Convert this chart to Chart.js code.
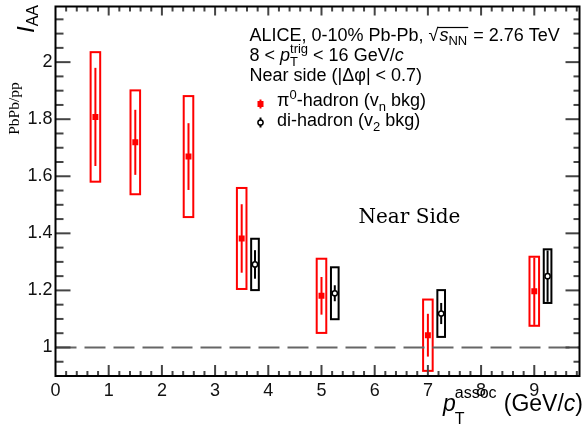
<!DOCTYPE html>
<html>
<head>
<meta charset="utf-8">
<script src="https://cdn.jsdelivr.net/npm/chart.js@4.4.0/dist/chart.umd.min.js"></script>
<style>
  body { margin: 0; background: #fff; }
  #wrap { width: 585px; height: 425px; }
</style>
</head>
<body>
<div id="wrap"><canvas id="iaa-chart"></canvas></div>
<script>
// pi0-hadron (v_n bkg), red
const ptPi0 = [0.75, 1.5, 2.5, 3.5, 5, 7, 9];
const iaaPi0 = [1.808, 1.719, 1.669, 1.382, 1.181, 1.043, 1.197];
const statPi0 = [0.172, 0.114, 0.117, 0.12, 0.066, 0.075, 0.118];
const sysPi0 = [0.227, 0.182, 0.212, 0.177, 0.13, 0.125, 0.121];
// di-hadron (v_2 bkg), black
const ptDi = [3.75, 5.25, 7.25, 9.25];
const iaaDi = [1.291, 1.19, 1.119, 1.25];
const statDi = [0.05, 0.028, 0.037, 0.09];
const sysDi = [0.09, 0.091, 0.082, 0.094];
// axes
const xTickVals = [0, 1, 2, 3, 4, 5, 6, 7, 8, 9];
const yTickVals = [1, 1.2, 1.4, 1.6, 1.8, 2];
const xMin = 0, xMax = 9.85, yMin = 0.9, yMax = 2.195;

const SANS = '"Liberation Sans", Arial, sans-serif';
const SERIF = '"Liberation Serif", "Times New Roman", serif';
const RED = '#ff0000';

function line(ctx, x1, y1, x2, y2) {
    ctx.beginPath();
    ctx.moveTo(x1, y1);
    ctx.lineTo(x2, y2);
    ctx.stroke();
}

// draws pieces of text one after another: [text, font, dy, noAdvance]
function rich(ctx, x, y, parts) {
    for (const [t, f, dy, stay] of parts) {
        ctx.font = f;
        ctx.fillText(t, x, y + (dy || 0));
        if (!stay) x += ctx.measureText(t).width;
    }
    return x;
}

function drawErrors(ctx, sx, sy, xs, ys, stat, sys, halfW, color) {
    ctx.save();
    ctx.strokeStyle = color;
    ctx.lineWidth = 2;
    xs.forEach((x, i) => {
        const cx = sx.getPixelForValue(x);
        const l = sx.getPixelForValue(x - halfW);
        const r = sx.getPixelForValue(x + halfW);
        const top = sy.getPixelForValue(ys[i] + sys[i]);
        const bot = sy.getPixelForValue(ys[i] - sys[i]);
        ctx.strokeRect(l, top, r - l, bot - top);
        line(ctx, cx, sy.getPixelForValue(ys[i] + stat[i]), cx, sy.getPixelForValue(ys[i] - stat[i]));
    });
    ctx.restore();
}

function noPad(s) {
    s.paddingTop = 0;
    s.paddingBottom = 0;
    s.paddingLeft = 0;
    s.paddingRight = 0;
}

const rootStyle = {
    id: 'rootStyle',
    beforeDatasetsDraw(chart) {
        const {ctx, scales: {x, y}} = chart;
        drawErrors(ctx, x, y, ptPi0, iaaPi0, statPi0, sysPi0, 0.09, RED);
        drawErrors(ctx, x, y, ptDi, iaaDi, statDi, sysDi, 0.072, '#000');
    },
    afterDraw(chart) {
        const {ctx, chartArea: a, scales: {x, y}} = chart;
        ctx.save();
        // ticks inside the frame
        ctx.strokeStyle = '#444';
        ctx.lineWidth = 2;
        for (let i = 1; i * 0.2 < xMax; i++) {
            const p = x.getPixelForValue(i * 0.2);
            const major = i % 5 === 0;
            line(ctx, p, a.bottom, p, a.bottom - (major ? 11 : 5));
            line(ctx, p, a.top, p, a.top + (major ? 9 : 5));
        }
        for (let i = 1; yMin + i * 0.05 < yMax; i++) {
            const v = yMin + i * 0.05;
            const p = y.getPixelForValue(v);
            const major = (i - 2) % 4 === 0;
            line(ctx, a.left, p, a.left + (major ? 15 : 8), p);
            line(ctx, a.right, p, a.right - (major ? 14 : 6), p);
        }
        // frame
        ctx.strokeStyle = '#000';
        ctx.strokeRect(a.left, a.top, a.right - a.left, a.bottom - a.top);

        ctx.fillStyle = '#000';
        ctx.textAlign = 'left';
        ctx.textBaseline = 'alphabetic';
        const f18 = `18px ${SANS}`, f13 = `13px ${SANS}`, i18 = `italic 18px ${SANS}`;

        // header text
        let xe = rich(ctx, 249.5, 41, [['ALICE, 0-10% Pb-Pb, ', f18], ['\u221A', f18]]);
        const rx = xe;
        xe = rich(ctx, xe + 1, 41, [['s', i18], ['NN', f13, 4]]);
        ctx.lineWidth = 1.2;
        line(ctx, rx - 1, 27.5, xe + 1, 27.5);
        rich(ctx, xe + 1, 41, [[' = 2.76 TeV', f18]]);

        xe = rich(ctx, 249.5, 61, [['8 < ', f18], ['p', i18]]);
        rich(ctx, xe, 61, [['T', f13, 5, true], ['trig', f13, -8], [' < 16 GeV/', f18], ['c', i18]]);
        rich(ctx, 249.5, 80.5, [['Near side (|\u0394\u03C6| < 0.7)', f18]]);

        // legend
        rich(ctx, 277, 106, [['\u03C0', f18], ['0', f13, -7], ['-hadron (v', f18], ['n', f13, 5], [' bkg)', f18]]);
        rich(ctx, 277, 125.5, [['di-hadron (v', f18], ['2', f13, 5], [' bkg)', f18]]);
        ctx.lineWidth = 2;
        ctx.strokeStyle = RED;
        line(ctx, 260.5, 99.5, 260.5, 108.5);
        ctx.fillStyle = RED;
        ctx.fillRect(257.5, 101, 6, 6);
        ctx.strokeStyle = '#000';
        line(ctx, 260.5, 117.5, 260.5, 127.5);
        ctx.beginPath();
        ctx.arc(260.5, 122.5, 2.6, 0, Math.PI * 2);
        ctx.fillStyle = '#fff';
        ctx.fill();
        ctx.lineWidth = 1.5;
        ctx.stroke();

        // Near Side label
        ctx.fillStyle = '#000';
        ctx.font = '20px "DejaVu Serif", serif';
        ctx.fillText('Near Side', 358.5, 223.3);

        // x title
        xe = rich(ctx, 443, 410.5, [['p', `italic 23px ${SANS}`]]);
        rich(ctx, xe - 1, 410.5, [['T', `16px ${SANS}`, 13, true], ['assoc', `16px ${SANS}`, -13]]);
        const fx = `23px ${SANS}`;
        ctx.font = fx;
        const wClose = ctx.measureText(')').width;
        const wOpen = ctx.measureText('(GeV/').width;
        ctx.font = `italic 23px ${SANS}`;
        const wc = ctx.measureText('c').width;
        rich(ctx, 583 - wClose - wc - wOpen, 410.5, [['(GeV/', fx], ['c', `italic 23px ${SANS}`], [')', fx]]);

        // y title, rotated
        ctx.save();
        ctx.translate(33.5, 33);
        ctx.rotate(-Math.PI / 2);
        rich(ctx, 0, 0, [['I', `italic 24px ${SANS}`], ['AA', `16px ${SANS}`, 4]]);
        ctx.restore();
        ctx.save();
        ctx.translate(19, 108.5);
        ctx.rotate(-Math.PI / 2);
        ctx.textAlign = 'center';
        ctx.font = `15.5px ${SERIF}`;
        ctx.fillText('PbPb/pp', 0, 0);
        ctx.restore();
        ctx.restore();
    }
};

const ctx = document.getElementById('iaa-chart').getContext('2d');
const iaaChart = new Chart(ctx, {
    type: 'scatter',
    data: {
        datasets: [
            {
                label: '\u03C0\u2070-hadron (v_n bkg)',
                data: ptPi0.map((v, i) => ({x: v, y: iaaPi0[i]})),
                pointStyle: 'rect',
                pointRadius: 4.2,
                backgroundColor: RED,
                borderColor: RED,
                borderWidth: 0,
                order: 1
            },
            {
                label: 'di-hadron (v_2 bkg)',
                data: ptDi.map((v, i) => ({x: v, y: iaaDi[i]})),
                pointStyle: 'circle',
                pointRadius: 2.6,
                backgroundColor: '#fff',
                borderColor: '#000',
                borderWidth: 1.5,
                order: 1
            },
            {
                label: 'unity',
                data: [{x: xMin, y: 1}, {x: xMax, y: 1}],
                showLine: true,
                borderColor: '#666',
                borderWidth: 2,
                borderDash: [21, 8],
                pointRadius: 0,
                order: 5
            }
        ]
    },
    options: {
        responsive: true,
        maintainAspectRatio: false,
        animation: false,
        events: [],
        layout: {padding: {top: 6.5, right: 3.5, left: 0, bottom: 0}},
        plugins: {legend: {display: false}, tooltip: {enabled: false}},
        scales: {
            x: {
                type: 'linear',
                min: xMin,
                max: xMax,
                grid: {display: false, drawTicks: false},
                border: {display: false},
                afterBuildTicks: s => { s.ticks = xTickVals.map(v => ({value: v})); },
                afterFit: s => { s.height = 49; noPad(s); },
                ticks: {color: '#111', font: {family: SANS, size: 18}, padding: 4, maxRotation: 0, autoSkip: false}
            },
            y: {
                type: 'linear',
                min: yMin,
                max: yMax,
                grid: {display: false, drawTicks: false},
                border: {display: false},
                afterBuildTicks: s => { s.ticks = yTickVals.map(v => ({value: v})); },
                afterFit: s => { s.width = 55.5; noPad(s); },
                ticks: {color: '#111', font: {family: SANS, size: 18}, padding: 3,
                    callback: v => String(Math.round(v * 10) / 10)}
            }
        }
    },
    plugins: [rootStyle]
});
</script>
</body>
</html>
